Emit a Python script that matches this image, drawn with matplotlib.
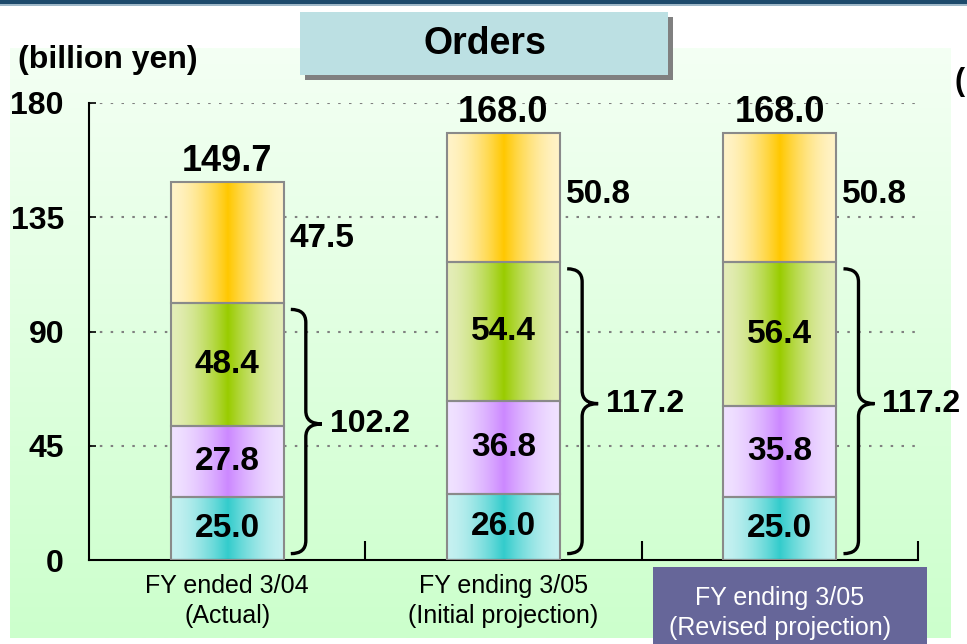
import numpy as np
import matplotlib
matplotlib.use("Agg")
import matplotlib.pyplot as plt
from matplotlib.patches import Rectangle, PathPatch
from matplotlib.path import Path
from matplotlib.colors import to_rgb

plt.rcParams['font.family'] = ['Liberation Sans', 'DejaVu Sans']

categories = ["FY ended 3/04\n(Actual)", "FY ending 3/05\n(Initial projection)",
              "FY ending 3/05\n(Revised projection)"]
seg1 = [25.0, 26.0, 25.0]
seg2 = [27.8, 36.8, 35.8]
seg3 = [48.4, 54.4, 56.4]
seg4 = [47.5, 50.8, 50.8]
total_labels = ["149.7", "168.0", "168.0"]
brace_labels = ["102.2", "117.2", "117.2"]
yticks = [0, 45, 90, 135, 180]

# center colour, edge colour for each series
seg_colors = [("#33cccc", "#c6f1f1"), ("#cc88ff", "#f0e2ff"),
              ("#99cc00", "#e4edb8"), ("#ffc800", "#fff3c8")]

W, H = 967, 644
fig = plt.figure(figsize=(W / 100, H / 100), dpi=100)

# background panel
bg = fig.add_axes([10 / W, 6 / H, 941 / W, 590 / H])
grad = np.linspace(0, 1, 200)[:, None]
top_c, bot_c = np.array(to_rgb("#f4fff4")), np.array(to_rgb("#ccffcc"))
img = top_c[None, None, :] * (1 - grad[..., None]) + bot_c[None, None, :] * grad[..., None]
bg.imshow(img, aspect='auto', extent=[0, 1, 0, 1])
bg.axis('off')

# top bar
fig.patches.append(Rectangle((0, 1 - 4 / H), 1, 4 / H, transform=fig.transFigure,
                             facecolor="#1d4a6b", edgecolor='none'))
fig.patches.append(Rectangle((0, 1 - 6 / H), 1, 2 / H, transform=fig.transFigure,
                             facecolor="#9fb8c8", edgecolor='none'))

ax = fig.add_axes([89 / W, 84 / H, 829 / W, 457 / H])
ax.set_facecolor('none')
ax.set_xlim(-0.5, 2.5)
ax.set_ylim(0, 180)

for y in yticks[1:]:
    ax.axhline(y, color="#808080", lw=1.5, ls=(0, (1.2, 4)), zorder=1)

bar_w = 0.41
u = np.linspace(0, 1, 120)
t = 1 - np.abs(2 * u - 1)
f = t ** 1.6
segments = [seg1, seg2, seg3, seg4]
for i in range(3):
    bottom = 0
    for s, vals in enumerate(segments):
        c_center, c_edge = np.array(to_rgb(seg_colors[s][0])), np.array(to_rgb(seg_colors[s][1]))
        row = c_edge[None, :] * (1 - f[:, None]) + c_center[None, :] * f[:, None]
        ax.imshow(row[None, :, :], aspect='auto', zorder=2,
                  extent=[i - bar_w / 2, i + bar_w / 2, bottom, bottom + vals[i]])
        ax.add_patch(Rectangle((i - bar_w / 2, bottom), bar_w, vals[i], facecolor='none',
                               edgecolor="#8a8a8a", lw=1.5, zorder=3))
        if s < 3:
            ax.text(i, bottom + vals[i] / 2, f"{vals[i]:.1f}", ha='center', va='center',
                    fontsize=24, fontweight='bold', zorder=4)
        else:
            ax.text(i + bar_w / 2 + 0.02, bottom + vals[i] / 2 + 1.5, f"{vals[i]:.1f}",
                    ha='left', va='center', fontsize=24, fontweight='bold', zorder=4)
        bottom += vals[i]
    ax.text(i, bottom + 1.5, total_labels[i], ha='center', va='bottom',
            fontsize=26, fontweight='bold', zorder=4)

# braces
px_x = 3.0 / 829
px_y = 180 / 457
for i in range(3):
    sub = seg1[i] + seg2[i] + seg3[i]
    ytop, ybot = sub - 2.5, 2.5
    ymid = (ytop + ybot) / 2 + 3
    x0 = i + bar_w / 2 + 7 * px_x
    x1 = x0 + 15 * px_x
    x2 = x1 + 16 * px_x
    r = 13 * px_y
    verts = [(x0, ytop), (x1, ytop), (x1, ytop - r),
             (x1, ymid + r), (x1, ymid), (x2, ymid),
             (x1, ymid), (x1, ymid - r),
             (x1, ybot + r), (x1, ybot), (x0, ybot)]
    codes = [Path.MOVETO, Path.CURVE3, Path.CURVE3,
             Path.LINETO, Path.CURVE3, Path.CURVE3,
             Path.CURVE3, Path.CURVE3,
             Path.LINETO, Path.CURVE3, Path.CURVE3]
    ax.add_patch(PathPatch(Path(verts, codes), facecolor='none', edgecolor='black',
                           lw=2.4, zorder=4, clip_on=False))
    ax.text(x2 + 8 * px_x, ymid, brace_labels[i], ha='left', va='center',
            fontsize=23, fontweight='bold', zorder=4)

# axes styling
for side in ['top', 'right']:
    ax.spines[side].set_visible(False)
ax.spines['left'].set_linewidth(1.5)
ax.spines['bottom'].set_linewidth(1.5)
ax.set_yticks(yticks)
ax.set_yticklabels([str(v) for v in yticks], fontsize=23, fontweight='bold')
ax.tick_params(axis='y', direction='in', length=5, width=1.2, pad=18)
ax.set_xticks([0.5, 1.5, 2.5])
ax.set_xticklabels([])
ax.tick_params(axis='x', direction='in', length=14, width=1.5)

# category labels
ax.add_patch(Rectangle((653 / W, 0), 274 / W, 77 / H, transform=fig.transFigure,
                       facecolor="#666699", edgecolor='none', clip_on=False, zorder=1))
label_offsets = [-41, -41, -53]
for i, lab in enumerate(categories):
    ax.text(i, label_offsets[i] / 457, lab, transform=ax.get_xaxis_transform(),
            ha='center', va='center', fontsize=18, linespacing=1.35,
            color='white' if i == 2 else 'black', zorder=5)

# title box
fig.patches.append(Rectangle((305 / W, 1 - 80 / H), 368 / W, 63 / H, transform=fig.transFigure,
                             facecolor="#808080", edgecolor='none'))
fig.patches.append(Rectangle((300 / W, 1 - 75 / H), 368 / W, 63 / H, transform=fig.transFigure,
                             facecolor="#bce0e3", edgecolor='none'))
fig.text(485 / W, 1 - 44 / H, "Orders", ha='center', va='center', fontsize=27, fontweight='bold')
fig.text(18 / W, 1 - 60 / H, "(billion yen)", ha='left', va='center', fontsize=23, fontweight='bold')
fig.text(955 / W, 1 - 82 / H, "(", ha='left', va='center', fontsize=22, fontweight='bold')

fig.savefig("out.png", dpi=100)
